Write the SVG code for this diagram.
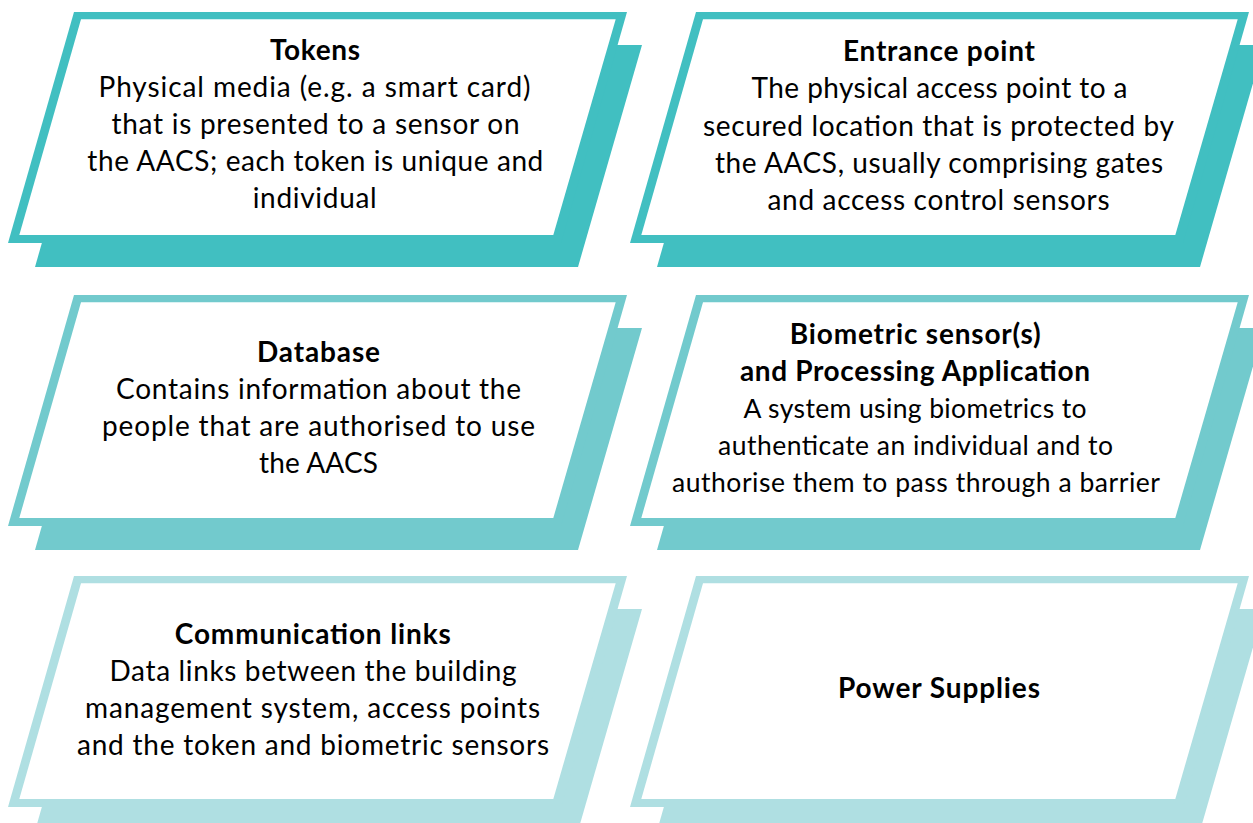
<svg xmlns="http://www.w3.org/2000/svg" xmlns:xlink="http://www.w3.org/1999/xlink" width="1253" height="823" viewBox="0 0 1253 823">
  <style>
    .row1 { color: #41bfc1; }
    .row2 { color: #72cacd; }
    .row3 { color: #afdfe2; }
    text { font-family: Lato, "Liberation Sans", sans-serif; font-size: 28px; fill: #000; text-anchor: middle; }
    .title { font-weight: bold; }
    .small { font-size: 26.5px; }
  </style>
  <defs>
    <!-- slanted card: offset backing plate, coloured frame, white face -->
    <g id="card-shape">
      <polygon points="98.5,45 642,45 578,267 35,267" fill="currentColor"/>
      <polygon points="74,12 627,12 561,243 8,243" fill="currentColor"/>
      <polygon points="81,19.3 615.7,19.3 553.3,235 19.3,235" fill="#fff"/>
    </g>
  </defs>

  <rect width="1253" height="823" fill="#fff"/>

  <g id="connectors"></g>

  <!-- top row -->
  <g id="tokens" class="row1">
    <use xlink:href="#card-shape" href="#card-shape"/>
    <text class="title" x="315" y="59.5" textLength="90">Tokens</text>
    <text x="314.5" y="96.5" textLength="432">Physical media (e.g. a smart card)</text>
    <text x="315.5" y="133.5" textLength="408">that is presented to a sensor on</text>
    <text x="315.3" y="170.5" textLength="456">the AACS; each token is unique and</text>
    <text x="314.7" y="207.5" textLength="124">individual</text>
  </g>

  <g id="entrance-point" class="row1">
    <use xlink:href="#card-shape" href="#card-shape" transform="translate(622,0)"/>
    <text class="title" x="939" y="61" textLength="192">Entrance point</text>
    <text x="939.5" y="98" textLength="376">The physical access point to a</text>
    <text x="938.5" y="135.5" textLength="471">secured location that is protected by</text>
    <text x="939" y="172.5" textLength="448">the AACS, usually comprising gates</text>
    <text x="938.5" y="209.5" textLength="342">and access control sensors</text>
  </g>

  <!-- middle row -->
  <g id="database" class="row2">
    <use xlink:href="#card-shape" href="#card-shape" transform="translate(0,283)"/>
    <text class="title" x="318.5" y="361.5" textLength="123">Database</text>
    <text x="318.5" y="398.5" textLength="405">Contains information about the</text>
    <text x="318.5" y="435.5" textLength="433">people that are authorised to use</text>
    <text x="318.5" y="472.5" textLength="119">the AACS</text>
  </g>

  <g id="biometric-sensors" class="row2">
    <use xlink:href="#card-shape" href="#card-shape" transform="translate(622,283)"/>
    <text class="title" x="915.3" y="343.5" textLength="251">Biometric sensor(s)</text>
    <text class="title" x="915" y="380.5" textLength="350">and Processing Application</text>
    <text class="small" x="915" y="418" textLength="343">A system using biometrics to</text>
    <text class="small" x="915.5" y="455" textLength="395">authenticate an individual and to</text>
    <text class="small" x="916" y="492" textLength="488">authorise them to pass through a barrier</text>
  </g>

  <!-- bottom row -->
  <g id="communication-links" class="row3">
    <use xlink:href="#card-shape" href="#card-shape" transform="translate(0,564)"/>
    <text class="title" x="312.8" y="643.5" textLength="276">Communication links</text>
    <text x="313" y="680.5" textLength="407">Data links between the building</text>
    <text x="312.5" y="717.5" textLength="455">management system, access points</text>
    <text x="313" y="754.5" textLength="472">and the token and biometric sensors</text>
  </g>

  <g id="power-supplies" class="row3">
    <use xlink:href="#card-shape" href="#card-shape" transform="translate(622,564)"/>
    <text class="title" x="939" y="698" textLength="202">Power Supplies</text>
  </g>
</svg>
